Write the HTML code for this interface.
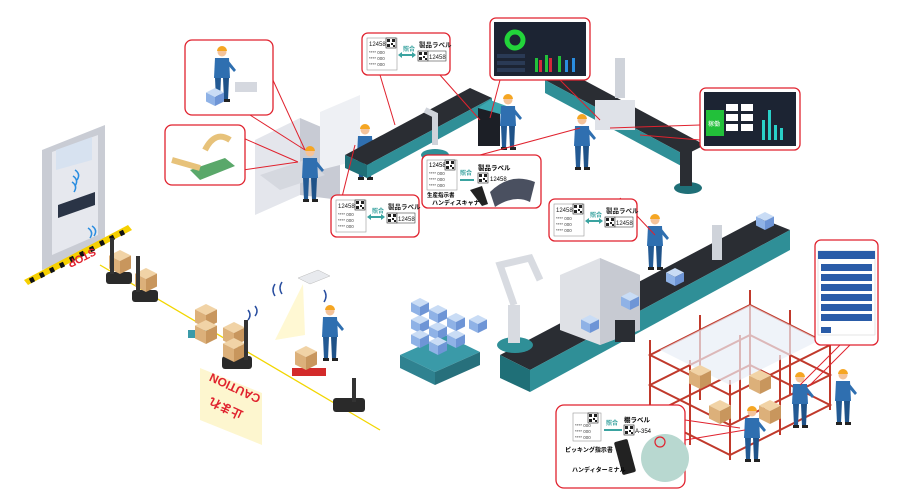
<!DOCTYPE html>
<html><head><meta charset="utf-8"><style>
html,body{margin:0;padding:0;background:#fff;}
svg{display:block;font-family:"Liberation Sans","Noto Sans CJK JP",sans-serif;}
</style></head><body>
<svg width="900" height="500" viewBox="0 0 900 500" xmlns="http://www.w3.org/2000/svg">
<defs>
<g id="box">
<polygon points="0,0 11,5.5 0,11 -11,5.5" fill="#f1d3a6"/>
<polygon points="-11,5.5 0,11 0,24 -11,18.5" fill="#dcb07a"/>
<polygon points="0,11 11,5.5 11,18.5 0,24" fill="#c8965d"/>
</g>
<g id="bbox">
<polygon points="0,0 9,4.5 0,9 -9,4.5" fill="#c9dcf5"/>
<polygon points="-9,4.5 0,9 0,18 -9,13.5" fill="#8fb2e6"/>
<polygon points="0,9 9,4.5 9,13.5 0,18" fill="#6e95d6"/>
</g>
<g id="worker">
<circle cx="0" cy="0" r="4.5" fill="#f4c39a"/>
<path d="M-5,-1 A5,5 0 0 1 5,-1 Z" fill="#f5a623"/>
<path d="M-7,6 L7,6 L8,26 L-8,26 Z" fill="#2f6fb0"/>
<path d="M-7,26 L-1,26 L-2,48 L-6,48 Z" fill="#235a94"/>
<path d="M1,26 L7,26 L6,48 L2,48 Z" fill="#1f5288"/>
<rect x="-7" y="47" width="6" height="3" fill="#222"/>
<rect x="2" y="47" width="6" height="3" fill="#222"/>
<path d="M6,8 L14,18 L12,20 L5,12 Z" fill="#2f6fb0"/>
</g>
<g id="qr">
<rect x="0" y="0" width="10" height="10" fill="#fff" stroke="#222" stroke-width="0.6"/>
<rect x="1" y="1" width="3" height="3" fill="#222"/><rect x="6" y="1" width="3" height="3" fill="#222"/>
<rect x="1" y="6" width="3" height="3" fill="#222"/><rect x="5" y="5" width="2" height="2" fill="#222"/><rect x="7" y="7" width="2" height="2" fill="#222"/>
</g>
<g id="card">
<rect x="0" y="0" width="88" height="42" rx="6" fill="#fff" stroke="#e0222e" stroke-width="1.3"/>
<rect x="5" y="5" width="30" height="32" fill="#fff" stroke="#999" stroke-width="0.6"/>
<text x="7" y="13" font-size="6" fill="#222">12458</text>
<use href="#qr" x="24" y="5"/>
<text x="7" y="21" font-size="4.5" fill="#444">**** 000</text>
<text x="7" y="27" font-size="4.5" fill="#444">**** 000</text>
<text x="7" y="33" font-size="4.5" fill="#444">**** 000</text>
<line x1="38" y1="22" x2="52" y2="22" stroke="#3aa3a0" stroke-width="2"/>
<polygon points="36,22 40,19 40,25" fill="#3aa3a0"/><polygon points="54,22 50,19 50,25" fill="#3aa3a0"/>
<text x="41" y="18" font-size="6" fill="#3aa3a0" font-weight="bold">照合</text>
<text x="57" y="14" font-size="6.5" fill="#222" font-weight="bold">製品ラベル</text>
<use href="#qr" x="56" y="18"/>
<rect x="66" y="18" width="18" height="10" fill="#fff" stroke="#222" stroke-width="0.5"/>
<text x="67" y="26" font-size="6" fill="#222">12458</text>
</g>
</defs>

<!-- door -->
<polygon points="42,150 105,125 105,245 42,270" fill="#c9ccd4"/>
<polygon points="52,152 98,135 98,235 52,255" fill="#e6e8ee"/>
<polygon points="56,150 92,137 92,160 56,170" fill="#d7e2f0"/>
<polygon points="58,205 95,192 95,205 58,218" fill="#2a3446"/>
<path d="M75,170 q6,4 2,10 M73,176 q6,4 2,10 M72,182 q6,4 2,10" stroke="#2a8de0" stroke-width="1.5" fill="none"/>
<path d="M88,228 q6,4 2,10 M92,226 q6,4 2,10" stroke="#2a8de0" stroke-width="1.5" fill="none"/>
<!-- stop stripe -->
<polygon points="24,280 128,225 132,230 28,285" fill="#f6d000"/>
<path d="M30,281 l4,-2 M40,276 l4,-2 M50,271 l4,-2 M60,266 l4,-2 M70,260 l4,-2 M80,255 l4,-2 M90,250 l4,-2 M100,244 l4,-2 M110,239 l4,-2 M120,234 l4,-2" stroke="#111" stroke-width="5"/>
<text x="82" y="262" font-size="11" fill="#e0222e" font-weight="bold" text-anchor="middle" transform="rotate(153 82 258)">STOP</text>
<!-- yellow path -->
<line x1="100" y1="265" x2="380" y2="430" stroke="#f2d600" stroke-width="1.3"/>
<!-- AGVs -->
<rect x="106" y="272" width="26" height="12" rx="3" fill="#2a2a2a"/>
<use href="#box" x="120" y="250"/>
<rect x="110" y="238" width="4" height="36" fill="#333"/>
<rect x="132" y="290" width="26" height="12" rx="3" fill="#2a2a2a"/>
<use href="#box" x="146" y="268"/>
<rect x="136" y="256" width="4" height="36" fill="#333"/>
<rect x="188" y="330" width="28" height="8" fill="#3a9aa8"/>
<use href="#box" x="206" y="304"/><use href="#box" x="206" y="320"/>
<rect x="222" y="356" width="30" height="13" rx="3" fill="#2a2a2a"/>
<use href="#box" x="234" y="322"/><use href="#box" x="234" y="338"/>
<rect x="244" y="320" width="4" height="40" fill="#333"/>
<rect x="333" y="398" width="32" height="14" rx="3" fill="#2a2a2a"/>
<rect x="352" y="378" width="4" height="24" fill="#333"/>
<!-- caution -->
<polygon points="200,368 262,393 262,445 200,420" fill="#fdf6cf"/>
<text x="235" y="392" font-size="12" fill="#e0222e" font-weight="bold" text-anchor="middle" transform="rotate(205 235 388)">CAUTION</text>
<text x="226" y="412" font-size="12" fill="#e0222e" font-weight="bold" text-anchor="middle" transform="rotate(205 226 408)">止まれ</text>
<!-- projector -->
<polygon points="298,278 318,270 330,276 310,284" fill="#e8eaee" stroke="#bbb" stroke-width="0.5"/>
<polygon points="303,284 275,340 305,335" fill="#fff6c8" opacity="0.8"/>
<path d="M275,284 q-4,6 0,12 M282,282 q-4,6 0,12 M324,290 q4,6 0,12 M248,310 q4,5 0,10 M255,306 q4,5 0,10" stroke="#2a4fa0" stroke-width="1.5" fill="none"/>
<!-- cart worker -->
<rect x="292" y="368" width="34" height="8" fill="#d32a2a"/>
<use href="#box" x="306" y="346"/>
<use href="#worker" x="330" y="311"/>

<!-- upper-left workstations -->
<polygon points="255,140 300,118 300,195 255,215" fill="#e4e6ec"/>
<polygon points="300,118 340,135 340,200 300,195" fill="#c8cbd4"/>
<polygon points="320,112 360,95 360,160 320,170" fill="#eef0f4"/>
<polygon points="260,175 305,160 325,175 280,190" fill="#d5d8df"/>
<use href="#worker" x="310" y="152"/>
<use href="#worker" x="365" y="130"/>
<!-- upper conveyor 1 -->
<polygon points="345,155 470,88 492,98 367,165" fill="#2a2d33"/>
<polygon points="367,165 492,98 492,110 367,178" fill="#2f8f97"/>
<polygon points="345,155 367,165 367,178 345,168" fill="#1f6f77"/>
<path d="M425,110 l10,5 v30" stroke="#cfd3da" stroke-width="6" fill="none"/>
<ellipse cx="435" cy="155" rx="14" ry="6" fill="#2f8f97"/>
<!-- terminal -->
<rect x="478" y="108" width="22" height="38" fill="#1c1f26"/>
<polygon points="478,108 490,100 512,108 500,114" fill="#3ba7b0"/>
<use href="#worker" x="508" y="100"/>
<!-- upper conveyor 2 -->
<polygon points="545,80 565,70 705,145 685,155" fill="#2a2d33"/>
<polygon points="545,80 685,155 685,168 545,93" fill="#2f8f97"/>
<rect x="595" y="100" width="40" height="30" fill="#dfe2e8"/>
<use href="#worker" x="582" y="120"/>
<rect x="615" y="58" width="10" height="40" fill="#cfd3da"/>
<ellipse cx="688" cy="188" rx="14" ry="6" fill="#1f6f77"/>
<rect x="680" y="150" width="12" height="36" fill="#2a2d33"/>
<!-- lower conveyor -->
<polygon points="500,355 760,218 790,230 530,370" fill="#2a2d33"/>
<polygon points="530,370 790,230 790,250 530,392" fill="#2f8f97"/>
<polygon points="500,355 530,370 530,392 500,378" fill="#1f6f77"/>
<polygon points="560,275 600,258 640,275 640,330 600,345 560,330" fill="#dfe1e6"/>
<polygon points="600,258 640,275 640,330 600,345" fill="#c7cad2"/>
<rect x="615" y="320" width="20" height="22" fill="#2a2d33"/>
<use href="#bbox" x="630" y="292"/><use href="#bbox" x="590" y="315"/>
<use href="#bbox" x="675" y="268"/><use href="#bbox" x="765" y="212"/>
<use href="#worker" x="655" y="220"/>
<rect x="712" y="225" width="10" height="35" fill="#cfd3da"/>
<!-- robot arm -->
<ellipse cx="515" cy="345" rx="18" ry="8" fill="#2f8f97"/>
<rect x="508" y="305" width="12" height="38" fill="#d8dbe1"/>
<path d="M514,305 L500,265 L530,258 L540,280" stroke="#d8dbe1" stroke-width="7" fill="none"/>
<use href="#bbox" x="478" y="315"/>
<!-- blue pallet -->
<polygon points="400,355 445,335 480,352 435,372" fill="#3a9aa8"/>
<polygon points="400,355 435,372 435,385 400,368" fill="#2f8290"/>
<polygon points="435,372 480,352 480,365 435,385" fill="#27707c"/>
<use href="#bbox" x="420" y="315"/><use href="#bbox" x="438" y="322"/><use href="#bbox" x="456" y="330"/>
<use href="#bbox" x="420" y="330"/><use href="#bbox" x="438" y="337"/><use href="#bbox" x="438" y="305"/>
<use href="#bbox" x="456" y="313"/><use href="#bbox" x="420" y="298"/>
<!-- shelves -->
<g stroke="#c0392b" stroke-width="2" fill="none">
<path d="M650,340 v85 M700,315 v85 M750,290 v85 M790,310 v85 M740,335 v85 M690,360 v85 M730,380 v80 M780,355 v80 M830,330 v80"/>
<path d="M650,355 L750,305 L830,345 L730,395 Z M650,385 L750,335 L830,375 L730,425 Z M650,415 L750,365 L830,405 L730,455 Z"/>
</g>
<polygon points="660,350 750,305 820,340 730,385" fill="#e8eef6" opacity="0.7"/>
<use href="#box" x="700" y="365"/><use href="#box" x="760" y="370"/><use href="#box" x="720" y="400"/><use href="#box" x="770" y="400"/>
<use href="#worker" x="752" y="412"/>
<use href="#worker" x="800" y="378"/>
<use href="#worker" x="843" y="375"/>

<!-- callouts -->
<g stroke="#e0222e" stroke-width="1" fill="none">
<line x1="243" y1="138" x2="298" y2="162"/><line x1="243" y1="170" x2="298" y2="162"/>
<line x1="250" y1="115" x2="305" y2="150"/>
<line x1="272" y1="78" x2="305" y2="150"/>
<line x1="380" y1="75" x2="395" y2="125"/><line x1="440" y1="75" x2="480" y2="120"/>
<line x1="500" y1="80" x2="490" y2="118"/><line x1="560" y1="80" x2="600" y2="120"/>
<line x1="700" y1="125" x2="610" y2="128"/><line x1="700" y1="140" x2="640" y2="135"/>
<line x1="340" y1="205" x2="355" y2="145"/>
<line x1="480" y1="155" x2="580" y2="128"/>
<line x1="620" y1="198" x2="655" y2="235"/>
<line x1="840" y1="345" x2="800" y2="385"/><line x1="850" y1="345" x2="810" y2="385"/>
<line x1="685" y1="420" x2="740" y2="428"/><line x1="685" y1="440" x2="745" y2="430"/>
</g>
<rect x="185" y="40" width="88" height="75" rx="7" fill="#fff" stroke="#e0222e" stroke-width="1.3"/>
<use href="#worker" x="222" y="52"/>
<use href="#bbox" x="215" y="88"/>
<rect x="235" y="82" width="22" height="10" fill="#d5d8df"/>
<rect x="165" y="125" width="80" height="60" rx="7" fill="#fff" stroke="#e0222e" stroke-width="1.3"/>
<polygon points="190,170 225,158 235,166 200,180" fill="#5aa86a"/>
<path d="M172,160 L200,168 M205,150 q10,-20 25,-10" stroke="#e7c27a" stroke-width="6" fill="none"/>
<use href="#card" x="362" y="33"/>
<use href="#card" x="331" y="195"/>
<use href="#card" x="549" y="199"/>
<!-- dashboard -->
<rect x="490" y="18" width="100" height="62" rx="6" fill="#fff" stroke="#e0222e" stroke-width="1.3"/>
<rect x="494" y="22" width="92" height="54" fill="#1c2433"/>
<circle cx="515" cy="40" r="8" fill="none" stroke="#22d43a" stroke-width="5"/>
<g fill="#22c03a"><rect x="535" y="58" width="3" height="14"/><rect x="545" y="55" width="3" height="17"/><rect x="558" y="56" width="3" height="16"/></g>
<g fill="#d4283a"><rect x="539" y="60" width="3" height="12"/><rect x="549" y="58" width="3" height="14"/></g>
<g fill="#2a8de0"><rect x="565" y="60" width="3" height="12"/><rect x="572" y="58" width="3" height="14"/></g>
<rect x="497" y="54" width="28" height="4" fill="#2a3a55"/><rect x="497" y="61" width="28" height="4" fill="#2a3a55"/><rect x="497" y="68" width="28" height="4" fill="#2a3a55"/>
<!-- right screen -->
<rect x="700" y="88" width="100" height="62" rx="6" fill="#fff" stroke="#e0222e" stroke-width="1.3"/>
<rect x="704" y="92" width="92" height="54" fill="#1c2433"/>
<rect x="706" y="110" width="18" height="26" fill="#22c03a"/>
<text x="708" y="126" font-size="6" fill="#fff">稼働</text>
<rect x="726" y="104" width="12" height="7" fill="#fff"/><rect x="726" y="114" width="12" height="7" fill="#fff"/><rect x="726" y="124" width="12" height="7" fill="#fff"/>
<rect x="741" y="104" width="12" height="7" fill="#fff"/><rect x="741" y="114" width="12" height="7" fill="#fff"/><rect x="741" y="124" width="12" height="7" fill="#fff"/>
<g fill="#2ad0c8"><rect x="762" y="120" width="3" height="20"/><rect x="768" y="110" width="3" height="30"/><rect x="774" y="125" width="3" height="15"/><rect x="780" y="128" width="3" height="12"/></g>
<!-- handy scanner callout -->
<rect x="422" y="155" width="119" height="53" rx="6" fill="#fff" stroke="#e0222e" stroke-width="1.3"/>
<rect x="427" y="160" width="30" height="30" fill="#fff" stroke="#999" stroke-width="0.6"/>
<text x="429" y="167" font-size="6">12458</text><use href="#qr" x="445" y="160"/>
<text x="429" y="175" font-size="4.5" fill="#444">**** 000</text><text x="429" y="181" font-size="4.5" fill="#444">**** 000</text><text x="429" y="187" font-size="4.5" fill="#444">**** 000</text>
<text x="427" y="197" font-size="5.5" font-weight="bold">生産指示書</text>
<text x="460" y="175" font-size="6" fill="#3aa3a0" font-weight="bold">照合</text>
<line x1="460" y1="180" x2="474" y2="180" stroke="#3aa3a0" stroke-width="2"/>
<text x="478" y="170" font-size="6.5" font-weight="bold">製品ラベル</text>
<use href="#qr" x="478" y="173"/><text x="490" y="181" font-size="6">12458</text>
<path d="M490,192 q20,-20 45,-10 l-5,20 q-15,-8 -35,5 Z" fill="#4a5060"/>
<path d="M470,190 l12,-4 l6,18 l-6,2 Z" fill="#222"/>
<text x="432" y="205" font-size="6" font-weight="bold">ハンディスキャナ</text>
<!-- tablet -->
<rect x="815" y="240" width="63" height="105" rx="6" fill="#fff" stroke="#e0222e" stroke-width="1.3"/>
<rect x="818" y="251" width="57" height="84" fill="#fff" stroke="#ccc" stroke-width="0.5"/>
<rect x="818" y="251" width="57" height="8" fill="#2a5ca8"/>
<g fill="#2a5ca8"><rect x="821" y="264" width="51" height="7"/><rect x="821" y="274" width="51" height="7"/><rect x="821" y="284" width="51" height="7"/><rect x="821" y="294" width="51" height="7"/><rect x="821" y="304" width="51" height="7"/><rect x="821" y="314" width="51" height="7"/><rect x="821" y="327" width="10" height="6"/></g>
<!-- bottom callout -->
<rect x="556" y="405" width="129" height="83" rx="8" fill="#fff" stroke="#e0222e" stroke-width="1.3"/>
<rect x="573" y="413" width="28" height="28" fill="#fff" stroke="#999" stroke-width="0.6"/>
<use href="#qr" x="588" y="413"/>
<text x="575" y="427" font-size="4.5" fill="#444">**** 000</text><text x="575" y="433" font-size="4.5" fill="#444">**** 000</text><text x="575" y="439" font-size="4.5" fill="#444">**** 000</text>
<text x="606" y="425" font-size="6" fill="#3aa3a0" font-weight="bold">照合</text>
<line x1="604" y1="430" x2="622" y2="430" stroke="#3aa3a0" stroke-width="2"/>
<text x="624" y="422" font-size="6.5" font-weight="bold">棚ラベル</text>
<use href="#qr" x="624" y="425"/><text x="635" y="433" font-size="6">A-354</text>
<circle cx="665" cy="458" r="24" fill="#b8d8d0"/>
<circle cx="660" cy="442" r="5" fill="none" stroke="#e0222e" stroke-width="1.2"/>
<rect x="618" y="440" width="14" height="34" rx="2" fill="#222" transform="rotate(-15 625 457)"/>
<text x="565" y="452" font-size="6" font-weight="bold">ピッキング指示書</text>
<text x="572" y="472" font-size="6" font-weight="bold">ハンディターミナル</text>
</svg>
</body></html>
